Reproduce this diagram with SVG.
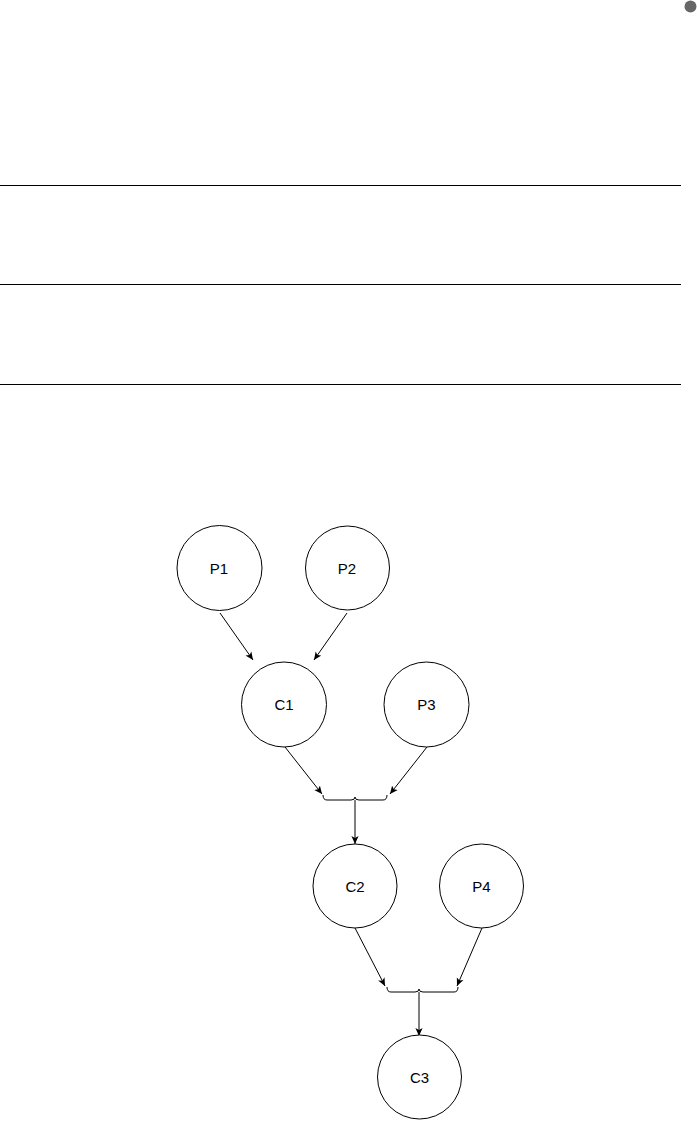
<svg xmlns="http://www.w3.org/2000/svg" width="697" height="1121" viewBox="0 0 697 1121">
<style>
.node circle{fill:#fff;stroke:#000;stroke-width:1}
.node text{font-family:"Liberation Sans",Arial,sans-serif;font-size:15px;fill:#000;text-anchor:middle}
.conn path{fill:none;stroke:#000;stroke-width:1}
.rule{stroke:#000;stroke-width:1}
</style>
<defs>
<marker id="arr" viewBox="0 0 10 10" refX="10" refY="5" markerWidth="8" markerHeight="8" markerUnits="userSpaceOnUse" orient="auto">
<path d="M0,0.5 L10,5 L0,9.5 L2.5,5 Z" fill="#000"/>
</marker>
</defs>
<rect width="697" height="1121" fill="#fff"/>
<circle cx="690.5" cy="6.5" r="6" fill="#666"/>
<line class="rule" x1="0" y1="185.5" x2="681" y2="185.5"/>
<line class="rule" x1="0" y1="284.5" x2="681" y2="284.5"/>
<line class="rule" x1="0" y1="384.5" x2="681" y2="384.5"/>
<g id="connectors" class="conn">
<path d="M220,613 L253,660" marker-end="url(#arr)"/>
<path d="M347,613 L314,660" marker-end="url(#arr)"/>
<path d="M285,747 L322,794" marker-end="url(#arr)"/>
<path d="M427,747 L390,794" marker-end="url(#arr)"/>
<path d="M323,795 Q323,800 327,800 L351,800 Q355,800 355,797 Q355,800 359,800 L383,800 Q387,800 387,795"/>
<path d="M355,800 L355,844" marker-end="url(#arr)"/>
<path d="M355,928 L385,986" marker-end="url(#arr)"/>
<path d="M482,928 L457,986" marker-end="url(#arr)"/>
<path d="M387,987 Q387,992 391,992 L415,992 Q419,992 419,989 Q419,992 423,992 L454,992 Q458,992 458,987"/>
<path d="M419,992 L419,1036" marker-end="url(#arr)"/>
</g>
<g id="P1" class="node"><circle cx="219.5" cy="568" r="42.5"/><text x="219" y="573.5">P1</text></g>
<g id="P2" class="node"><circle cx="347.5" cy="568" r="42"/><text x="347" y="573.5">P2</text></g>
<g id="C1" class="node"><circle cx="284" cy="704.5" r="42.5"/><text x="284" y="710">C1</text></g>
<g id="P3" class="node"><circle cx="426.5" cy="704.5" r="42.5"/><text x="426.5" y="710">P3</text></g>
<g id="C2" class="node"><circle cx="355" cy="886" r="42"/><text x="355" y="891.5">C2</text></g>
<g id="P4" class="node"><circle cx="481.5" cy="886" r="42"/><text x="481.5" y="891.5">P4</text></g>
<g id="C3" class="node"><circle cx="419.5" cy="1077" r="42"/><text x="419.5" y="1082.5">C3</text></g>
</svg>
